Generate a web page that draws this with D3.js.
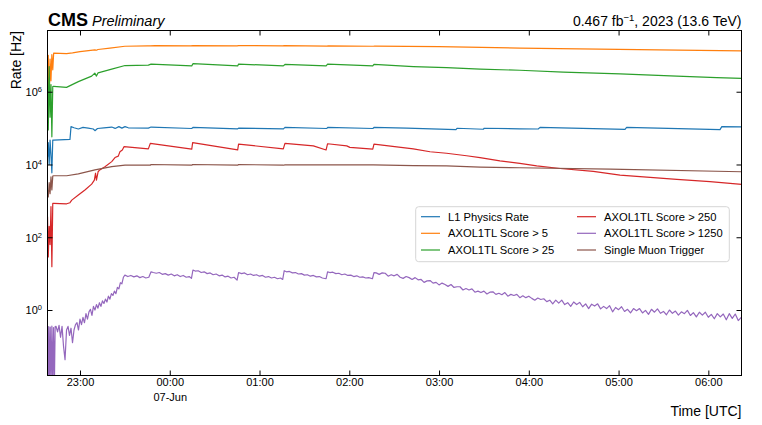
<!DOCTYPE html>
<html>
<head>
<meta charset="utf-8">
<script src="https://cdn.jsdelivr.net/npm/d3@7"></script>
<style>
  html, body { margin: 0; padding: 0; background: #fff; }
  svg { display: block; font-family: "Liberation Sans", Arial, Helvetica, sans-serif; }
</style>
</head>
<body>
<svg id="chart" width="762" height="425"></svg>
<script>
// ---- data: [minutes after 2023-06-06 22:00 UTC, rate in Hz] ----
const seriesNames = ["L1 Physics Rate", "AXOL1TL Score > 5", "AXOL1TL Score > 25",
                     "AXOL1TL Score > 250", "AXOL1TL Score > 1250", "Single Muon Trigger"];
const seriesColors = ["#1f77b4", "#ff7f0e", "#2ca02c", "#d62728", "#9467bd", "#8c564b"];

const l1Rate = [[38.3,1.58e4],[38.8,3.98e4],[39.4,1.0e4],[40.0,4.68e4],[40.6,1.78e4],[41.2,5.9e3],[41.8,4.68e4],[42.4,4.68e4],
  [53.3,4.9e4],[54,1.1e5],[56,1.02e5],[58.9,9.44e4],[62,1.05e5],[65.5,1.0e5],[68.9,9.44e4],[70,8.5e4],[71.7,9.77e4],
  [76,1.02e5],[81.2,1.07e5],[83.5,9.8e4],[86,1.1e5],[88,1.0e5],[90.1,1.1e5],[92.3,1.02e5],[105.7,1.0e5],[107.5,1.07e5],
  [134.7,9.77e4],[135.5,1.05e5],[165.4,9.55e4],[166,1.0e5],[196,9.55e4],[197,1.05e5],[225,9.77e4],[225.6,1.05e5],
  [255.8,9.77e4],[256.5,1.05e5],[278.4,1.0e5],[311.3,9.12e4],[312,9.9e4],[329.6,9.3e4],[330.2,9.9e4],[354,9.55e4],
  [366.3,9.44e4],[367.5,1.05e5],[424.3,9.23e4],[425.4,1.05e5],[487.8,9.12e4],[489,1.1e5],[502.2,1.08e5]];

const axoScore5 = [[38.3,1.58e6],[38.8,1.0e7],[39.4,4.4e5],[40.0,7.9e6],[40.6,2.0e6],[41.2,1.05e7],[41.8,4.0e6],[42.4,1.15e7],
  [51,1.12e7],[55,1.17e7],[60,1.26e7],[70,1.41e7],[71,1.38e7],[72,1.45e7],[80,1.58e7],[90,1.78e7],[105,1.82e7],[107,1.82e7],
  [110,1.84e7],[134,1.83e7],[135.5,1.86e7],[165,1.83e7],[166,1.86e7],[195.5,1.83e7],[196.5,1.85e7],[225,1.80e7],
  [226,1.83e7],[256,1.78e7],[257,1.80e7],[300,1.74e7],[354,1.58e7],[420,1.46e7],[460,1.40e7],[502.2,1.32e7]];

const axoScore25 = [[38.3,2.51e6],[38.8,8.9e4],[39.4,4.9e6],[40.0,2.0e5],[40.6,1.58e6],[41.2,5.75e4],[41.8,1.38e6],[42.4,1.41e6],
  [51,1.32e6],[58.9,1.9e6],[67.8,2.69e6],[69.9,3.24e6],[71,2.69e6],[72.1,3.31e6],[81.2,4.17e6],[90.1,5.25e6],
  [105.7,5.37e6],[107.5,5.75e6],[134.7,5.13e6],[135.5,5.89e6],[165.4,5.13e6],[166,5.75e6],[195.9,5.13e6],[197,5.62e6],
  [224.5,5.13e6],[225.5,5.75e6],[255.7,5.13e6],[256.5,5.62e6],[282.8,4.9e6],[305,4.57e6],[327.4,4.17e6],[354,3.89e6],
  [383,3.47e6],[421,3.09e6],[458.9,2.69e6],[485.6,2.45e6],[502.2,2.34e6]];

const axoScore250 = [[38.3,363],[38.8,28.8],[39.4,200],[40.0,63],[40.6,692],[41.2,15.5],[41.8,851],[42.4,851],
  [51.1,832],[53.3,891],[54.5,1047],[58.9,1445],[63.3,1995],[67.8,2884],[69.6,3715],[70.4,5754],[71,3715],[72.1,6310],
  [73.2,7079],[76.7,8710],[81.2,1.2e4],[83.4,1.55e4],[85.6,1.7e4],[86.7,2.24e4],[88.3,2.51e4],[89.4,3.09e4],
  [105.7,2.69e4],[107,3.8e4],[134.7,2.63e4],[135.3,3.98e4],[165.4,2.51e4],[166,3.63e4],[195.9,2.69e4],[197,3.8e4],
  [216,3.24e4],[224.5,2.51e4],[225.5,3.72e4],[238.3,3.24e4],[240.4,2.95e4],[255.7,2.63e4],[256.5,3.63e4],
  [282.8,2.69e4],[294,2.24e4],[305,2.04e4],[318.4,1.74e4],[327.4,1.55e4],[340.7,1.26e4],[354,1.07e4],[365.3,9120],
  [380.9,7762],[403.1,6457],[421,5129],[436.6,4571],[458.9,3890],[481.1,3388],[502.2,2851]];

const axoScore1250 = [[38.6,0.012],[39.1,0.35],[39.6,0.006],[40.1,0.34],[40.7,0.01],[41.2,0.36],[41.8,0.008],[42.3,0.33],
  [42.9,0.01],[43.4,0.35],[44,0.355],[45,0.251],[46,0.380],[47,0.178],[48,0.355],[49,0.100],[50,0.043],[51,0.282],
  [52,0.355],[53,0.200],[54,0.316],[55,0.126],[56,0.282],[57,0.398],[58,0.447],[59,0.282],[60,0.562],[61,0.398],
  [62,0.631],[63,0.447],[64,0.794],[65,0.562],[66,0.891],[67,1.047],[68,0.708],[69,1.259],[70,1.0],[71,1.413],
  [72,1.122],[73,1.585],[74,1.259],[75,1.778],[76,1.514],[77,1.995],[78,1.660],[79,2.399],[80,1.995],[81,2.818],
  [82,2.512],[83,3.311],[84,2.818],[85,4.169],[86,3.802],[87,5.623],[88,5.248],[89,7.943],[90,9.120],[92,8.318],
  [94,8.913],[96,8.128],[98,8.710],[100,7.762],[102,8.318],[104,7.586],[106,7.943],[107.5,11.22],[109,10.72],
  [111,10.23],[113,10.72],[115,9.550],[117,10.0],[119,9.120],[121,9.772],[123,8.710],[125,9.333],[127,8.318],
  [129,8.913],[131,7.943],[133,8.318],[134.5,7.413],[135.5,12.59],[137,11.75],[139,12.02],[141,10.72],[143,11.22],
  [145,10.0],[147,10.47],[149,9.333],[151,9.772],[153,8.710],[155,9.120],[157,8.128],[159,8.511],[161,7.586],
  [163,7.943],[165,6.607],[166,10.72],[168,10.0],[170,10.47],[172,9.333],[174,9.772],[176,8.913],[178,9.333],
  [180,8.511],[182,8.913],[184,7.943],[186,8.318],[188,7.586],[190,7.943],[192,7.244],[194,7.586],[195.5,6.918],
  [196.5,12.02],[198,11.22],[200,11.48],[202,10.47],[204,10.72],[206,9.772],[208,10.0],[210,9.120],[212,9.333],
  [214,8.511],[216,8.913],[218,8.128],[220,8.318],[222,7.586],[224.5,7.244],[225.5,11.22],[227,10.72],[229,10.96],
  [231,10.0],[233,10.23],[235,9.333],[237,9.772],[239,8.913],[241,9.120],[243,8.318],[245,8.710],[247,7.943],
  [249,8.128],[251,7.586],[253,7.762],[255.5,7.244],[256.5,10.72],[258,10.47],[260,9.550],[262,10.47],[264,10.23],
  [266,8.511],[268,9.333],[270,8.710],[272,9.550],[274,7.943],[276,7.413],[278,8.318],[280,7.762],[282,6.918],
  [284,7.762],[286,6.761],[288,6.918],[290,5.754],[292,6.310],[294,6.457],[296,5.495],[298,5.754],[300,4.898],
  [302,5.495],[304,5.012],[306,4.467],[308,5.012],[310,4.169],[312,4.365],[314,4.365],[316,3.548],[318,3.890],
  [320,3.548],[322,3.802],[324,3.090],[326,3.311],[328,3.020],[330,3.311],[332,2.754],[334,3.090],[336,3.162],
  [338,2.692],[340,2.884],[342,2.630],[344,3.020],[346,2.399],[348,2.692],[350,2.512],[352,2.692],[354,2.188],
  [356,2.455],[358,2.188],[360,2.399],[362,2.089],[364,1.862],[366,2.138],[368,1.950],[370,2.042],[372,1.698],
  [374,1.862],[376,1.479],[378,1.862],[380,1.549],[382,1.862],[384,1.413],[386,1.585],[388,1.259],[390,1.660],
  [392,1.413],[394,1.622],[396,1.230],[398,1.479],[400,1.096],[402,1.445],[404,1.288],[406,1.479],[408,1.072],
  [410,1.259],[412,1.096],[414,1.318],[416,0.891],[418,1.175],[420,1.023],[422,1.230],[424,0.912],[426,1.047],
  [428,0.832],[430,1.096],[432,0.955],[434,1.096],[436,0.832],[438,0.977],[440,0.759],[442,1.047],[444,0.871],
  [446,1.072],[448,0.813],[450,0.912],[452,0.741],[454,1.0],[456,0.813],[458,0.933],[460,0.724],[462,0.891],
  [464,0.794],[466,0.977],[468,0.708],[470,0.851],[472,0.646],[474,0.871],[476,0.724],[478,0.871],[480,0.631],
  [482,0.759],[484,0.575],[486,0.794],[488,0.646],[490,0.776],[492,0.537],[494,0.794],[496,0.589],[498,0.776],
  [500,0.513],[502,0.631]];

const singleMuon = [[38.3,1995],[38.8,1288],[39.4,3162],[40.0,1585],[40.6,4571],[41.2,1995],[41.8,4786],[42.4,4898],
  [51.1,4898],[58.9,5495],[70,7079],[81.2,8710],[90.1,9550],[107,9550],[107.5,1.0e4],[134.7,9550],[135.3,1.0e4],
  [165.4,9550],[166,1.0e4],[196,9550],[197,9772],[256,9772],[282.8,9333],[305,9120],[327.4,8511],[354,8128],
  [414.3,7413],[502.2,6310]];

const seriesData = [l1Rate, axoScore5, axoScore25, axoScore250, axoScore1250, singleMuon];
const drawOrder = [0, 1, 2, 3, 4, 5];

const xTickHours = [23, 24, 25, 26, 27, 28, 29, 30];   // hours after 06-Jun 00:00
const xTickLabels = ["23:00", "00:00", "01:00", "02:00", "03:00", "04:00", "05:00", "06:00"];
const yTickExps = [0, 2, 4, 6];
const xDomainMin = [38.28, 502.17];
const yDomainExp = [-1.8, 7.683];

// ---- layout ----
const W = 762, H = 425;
const plot = { left: 47.5, right: 741.5, top: 30.5, bottom: 375.5 };
const T0 = Date.UTC(2023, 5, 6, 22, 0, 0);
const toDate = m => new Date(T0 + m * 60000);

const svg = d3.select("#chart");
const x = d3.scaleUtc().domain(xDomainMin.map(toDate)).range([plot.left, plot.right]);
const y = d3.scaleLog().domain(yDomainExp.map(e => Math.pow(10, e))).range([plot.bottom, plot.top]);

svg.append("defs").append("clipPath").attr("id", "clip")
  .append("rect").attr("x", plot.left).attr("y", plot.top)
  .attr("width", plot.right - plot.left).attr("height", plot.bottom - plot.top);

const line = d3.line().x(d => x(toDate(d[0]))).y(d => y(Math.max(d[1], 1e-4)));
const gLines = svg.append("g").attr("clip-path", "url(#clip)");
drawOrder.forEach(i => {
  gLines.append("path").datum(seriesData[i])
    .attr("fill", "none").attr("stroke", seriesColors[i]).attr("stroke-width", 1.2)
    .attr("stroke-linejoin", "round").attr("d", line);
});

// ---- axes ----
const tickDates = xTickHours.map(h => new Date(Date.UTC(2023, 5, 6, h, 0, 0)));
const fmtTick = d => xTickLabels[tickDates.findIndex(t => +t === +d)];
const axStyle = g => {
  g.select(".domain").remove();
  g.selectAll(".tick line").attr("stroke", "#000").attr("stroke-width", 1);
  g.selectAll("text").attr("fill", "#000").attr("font-size", 11)
    .attr("font-family", '"Liberation Sans", Arial, sans-serif');
};
const xb = svg.append("g").attr("transform", `translate(0,${plot.bottom})`)
  .call(d3.axisBottom(x).tickValues(tickDates).tickSize(-5).tickPadding(3).tickFormat(fmtTick))
  .call(axStyle);
xb.selectAll(".tick text").each(function(d) {
  if (d.getUTCHours() === 0) {
    const t = d3.select(this);
    t.append("tspan").attr("x", 0).attr("dy", "1.32em").text(d3.utcFormat("%d-%b")(d));
  }
});
svg.append("g").attr("transform", `translate(0,${plot.top})`)
  .call(d3.axisTop(x).tickValues(tickDates).tickSize(-5).tickFormat(""))
  .call(axStyle);

const yTicks = yTickExps.map(e => Math.pow(10, e));
const yl = svg.append("g").attr("transform", `translate(${plot.left},0)`)
  .call(d3.axisLeft(y).tickValues(yTicks).tickSize(-5).tickPadding(5).tickFormat(""))
  .call(axStyle);
yl.selectAll(".tick").each(function(d, i) {
  const t = d3.select(this).append("text").attr("x", -5.5).attr("dy", "0.36em")
    .attr("text-anchor", "end").attr("fill", "#000").attr("font-size", 11);
  t.append("tspan").text("10");
  t.append("tspan").attr("font-size", 7.5).attr("dy", "-0.55em").text(yTickExps[i]);
});
svg.append("g").attr("transform", `translate(${plot.right},0)`)
  .call(d3.axisRight(y).tickValues(yTicks).tickSize(-5).tickFormat(""))
  .call(axStyle);

svg.append("rect").attr("x", plot.left).attr("y", plot.top)
  .attr("width", plot.right - plot.left).attr("height", plot.bottom - plot.top)
  .attr("fill", "none").attr("stroke", "#000").attr("stroke-width", 1);

// ---- labels ----
svg.append("text").attr("transform", `translate(21,${plot.top + 0.5}) rotate(-90)`)
  .attr("text-anchor", "end").attr("font-size", 14).text("Rate [Hz]");
svg.append("text").attr("x", plot.right).attr("y", 416).attr("text-anchor", "end")
  .attr("font-size", 14).text("Time [UTC]");

const hdr = svg.append("text").attr("x", 48).attr("y", 26);
hdr.append("tspan").attr("font-weight", "bold").attr("font-size", 18).text("CMS");
hdr.append("tspan").attr("font-style", "italic").attr("font-size", 14.5).attr("dx", 4).text("Preliminary");

const rh = svg.append("text").attr("x", plot.right).attr("y", 26).attr("text-anchor", "end").attr("font-size", 14);
rh.append("tspan").text("0.467 fb");
rh.append("tspan").attr("font-size", 9.5).attr("dy", -5.5).text("\u22121");
rh.append("tspan").attr("dy", 5.5).text(", 2023 (13.6 TeV)");

// ---- legend ----
const lg = svg.append("g");
lg.append("rect").attr("x", 415.7).attr("y", 206.7).attr("width", 313.6).attr("height", 55)
  .attr("rx", 3).attr("fill", "#fff").attr("fill-opacity", 0.8)
  .attr("stroke", "#d6d6d6").attr("stroke-width", 1);
const colX = [421, 577];
const rowY = [216.7, 233.3, 250];
seriesNames.forEach((name, i) => {
  const c = Math.floor(i / 3), r = i % 3;
  lg.append("line").attr("x1", colX[c]).attr("x2", colX[c] + 19)
    .attr("y1", rowY[r]).attr("y2", rowY[r])
    .attr("stroke", seriesColors[i]).attr("stroke-width", 1.2);
  lg.append("text").attr("x", colX[c] + 27).attr("y", rowY[r]).attr("dy", "0.36em")
    .attr("font-size", 11.2).attr("fill", "#000").text(name);
});
</script>
</body>
</html>
